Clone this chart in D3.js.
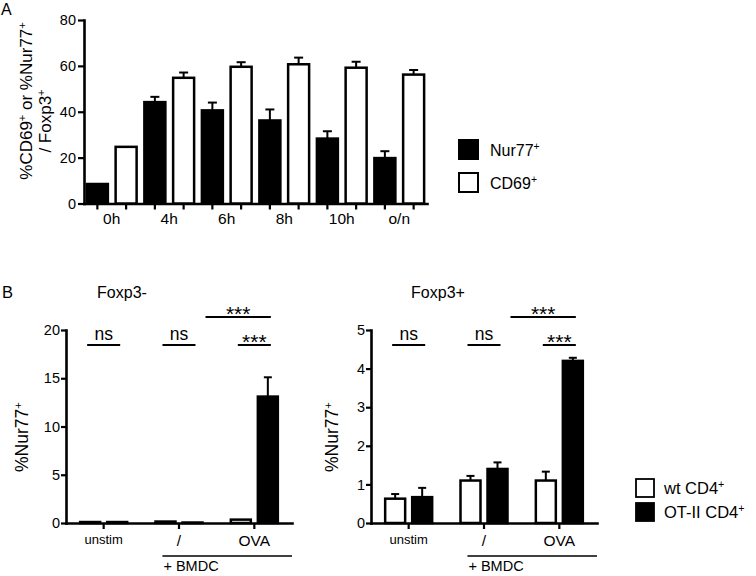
<!DOCTYPE html>
<html>
<head>
<meta charset="utf-8">
<script src="https://d3js.org/d3.v7.min.js"></script>
<style>
  body { margin: 0; background: #fff; }
  svg text { font-family: "Liberation Sans", Arial, sans-serif; fill: #000; }
</style>
</head>
<body>
<svg id="chart" width="756" height="576"></svg>
<script>
// ---- panel A data
const timeLabels = ["0h", "4h", "6h", "8h", "10h", "o/n"];
const nur77Values = [8.5, 44.2, 40.6, 36.2, 28.3, 19.8];
const nur77Errors = [0, 2.3, 3.4, 4.8, 3.2, 3.0];
const cd69Values = [24.7, 54.8, 59.6, 60.7, 59.2, 56.2];
const cd69Errors = [0, 2.3, 2.0, 2.9, 2.6, 2.0];
const aTicks = [0, 20, 40, 60, 80];

// ---- panel B data
const stimGroups = ["unstim", "/", "OVA"];
const negWt = [0.1, 0.15, 0.35];
const negWtErr = [0, 0, 0];
const negOt = [0.1, 0.05, 13.1];
const negOtErr = [0, 0, 2.0];
const posWt = [0.63, 1.1, 1.1];
const posWtErr = [0.12, 0.12, 0.23];
const posOt = [0.67, 1.4, 4.2];
const posOtErr = [0.24, 0.17, 0.08];
const negTicks = [0, 5, 10, 15, 20];
const posTicks = [0, 1, 2, 3, 4, 5];
const sigFrom = [["unstim", "wt"], ["/", "wt"], ["OVA", "wt"], ["/", "ot"]];
const sigTo = [["unstim", "ot"], ["/", "ot"], ["OVA", "ot"], ["OVA", "ot"]];
const sigLabels = ["ns", "ns", "***", "***"];

const svg = d3.select("#chart");

function styleAxis(g, size) {
  g.attr("font-family", null).attr("font-size", size);
  g.select(".domain").attr("stroke-width", 2.6).attr("stroke-linecap", "square");
  g.selectAll(".tick line").attr("stroke-width", 2.2);
}

// text with superscript parts: [[str, isSup], ...]
function richText(sel, parts, supShift) {
  parts.forEach(([s, sup]) => {
    const t = sel.append("tspan").text(s);
    if (sup) t.attr("font-size", "65%").attr("dy", -supShift);
  });
  // undo shift after a sup when followed by text
  sel.selectAll("tspan").each(function (d, i, nodes) {
    if (i > 0 && parts[i - 1][1] && !parts[i][1]) d3.select(this).attr("dy", supShift);
  });
}

// ================= Panel A =================
const aBars = timeLabels.flatMap((t, i) => [
  { key: t + "|n", time: t, fill: "#000", v: nur77Values[i], e: nur77Errors[i] },
  { key: t + "|c", time: t, fill: "#fff", v: cd69Values[i], e: cd69Errors[i] },
]);
const xA = d3.scaleBand().domain(aBars.map(d => d.key)).range([84, 427])
  .paddingInner(0.27).paddingOuter(0.1);
const yA = d3.scaleLinear().domain([0, 80]).range([203.5, 20]);

const gA = svg.append("g");
gA.append("text").attr("x", 1).attr("y", 15).attr("font-size", 16).text("A");

gA.append("g").attr("transform", "translate(84,0)")
  .call(d3.axisLeft(yA).tickValues(aTicks).tickSize(6).tickSizeOuter(0).tickPadding(2))
  .call(g => styleAxis(g, 14.5));
gA.append("g").attr("transform", `translate(0,${yA(0)})`)
  .call(d3.axisBottom(xA).tickFormat("").tickSize(6).tickSizeOuter(0))
  .call(g => styleAxis(g, 14));

gA.selectAll("text.tl").data(timeLabels).enter().append("text")
  .attr("class", "tl")
  .attr("x", t => xA(t + "|n") + (xA(t + "|c") - xA(t + "|n") + xA.bandwidth()) / 2)
  .attr("y", 224).attr("text-anchor", "middle").attr("font-size", 15.5).text(t => t);

gA.selectAll("rect.bar").data(aBars).enter().append("rect")
  .attr("class", "bar")
  .attr("x", d => xA(d.key)).attr("width", xA.bandwidth())
  .attr("y", d => yA(d.v)).attr("height", d => yA(0) - yA(d.v))
  .attr("fill", d => d.fill).attr("stroke", "#000").attr("stroke-width", 2.5);

const aErr = gA.selectAll("g.err").data(aBars.filter(d => d.e > 0)).enter().append("g");
aErr.append("line")
  .attr("x1", d => xA(d.key) + xA.bandwidth() / 2).attr("x2", d => xA(d.key) + xA.bandwidth() / 2)
  .attr("y1", d => yA(d.v)).attr("y2", d => yA(d.v + d.e))
  .attr("stroke", "#000").attr("stroke-width", 2);
aErr.append("line")
  .attr("x1", d => xA(d.key) + xA.bandwidth() / 2 - 4.5).attr("x2", d => xA(d.key) + xA.bandwidth() / 2 + 4.5)
  .attr("y1", d => yA(d.v + d.e)).attr("y2", d => yA(d.v + d.e))
  .attr("stroke", "#000").attr("stroke-width", 2);

// y label
const aLab = gA.append("text").attr("transform", "translate(32,101) rotate(-90)")
  .attr("text-anchor", "middle").attr("font-size", 17);
richText(aLab, [["%CD69", false], ["+", true], [" or %Nur77", false], ["+", true]], 6);
const aLab2 = gA.append("text").attr("transform", "translate(51,121) rotate(-90)")
  .attr("text-anchor", "middle").attr("font-size", 17);
richText(aLab2, [["/ Foxp3", false], ["+", true]], 6);

// legend A
const legA = [["#000", "Nur77"], ["#fff", "CD69"]];
legA.forEach(([f, lab], i) => {
  gA.append("rect").attr("x", 459).attr("y", 140 + i * 33).attr("width", 19).attr("height", 19)
    .attr("fill", f).attr("stroke", "#000").attr("stroke-width", 2);
  const t = gA.append("text").attr("x", 490).attr("y", 156 + i * 33).attr("font-size", 16);
  richText(t, [[lab, false], ["+", true]], 6);
});

// ================= Panel B =================
function drawPanel(o) {
  const g = svg.append("g");
  const xg = d3.scaleBand().domain(stimGroups).range([o.axisX, o.axisEnd]);
  const xs = d3.scaleBand().domain(["wt", "ot"]).range([-23.5, 23.5]).paddingInner(0.26);
  const y = d3.scaleLinear().domain([0, o.yMax]).range([523, 330]);
  const cx = (grp, s) => xg(grp) + xg.bandwidth() / 2 + xs(s) + xs.bandwidth() / 2;

  g.append("text").attr("x", o.titleX).attr("y", 298).attr("text-anchor", "middle")
    .attr("font-size", 16).text(o.title);

  g.append("g").attr("transform", `translate(${o.axisX},0)`)
    .call(d3.axisLeft(y).tickValues(o.ticks).tickFormat(d3.format("d"))
      .tickSize(5).tickSizeOuter(0).tickPadding(1))
    .call(a => styleAxis(a, 14.5));
  const xa = g.append("g").attr("transform", `translate(0,${y(0)})`)
    .call(d3.axisBottom(xg).tickSize(6).tickSizeOuter(0).tickPadding(6))
    .call(a => styleAxis(a, 15));
  xa.selectAll(".tick text").attr("font-size", d => d === "unstim" ? 13 : 15.5);

  const bars = stimGroups.flatMap((grp, i) => [
    { grp, s: "wt", fill: "#fff", v: o.wt[i], e: o.wtErr[i] },
    { grp, s: "ot", fill: "#000", v: o.ot[i], e: o.otErr[i] },
  ]);
  g.selectAll("rect.bar").data(bars).enter().append("rect")
    .attr("x", d => cx(d.grp, d.s) - xs.bandwidth() / 2).attr("width", xs.bandwidth())
    .attr("y", d => y(d.v)).attr("height", d => y(0) - y(d.v))
    .attr("fill", d => d.fill).attr("stroke", "#000").attr("stroke-width", 2.5);
  const eb = g.selectAll("g.err").data(bars.filter(d => d.e > 0)).enter().append("g");
  eb.append("line").attr("x1", d => cx(d.grp, d.s)).attr("x2", d => cx(d.grp, d.s))
    .attr("y1", d => y(d.v)).attr("y2", d => y(d.v + d.e))
    .attr("stroke", "#000").attr("stroke-width", 2);
  eb.append("line").attr("x1", d => cx(d.grp, d.s) - 4).attr("x2", d => cx(d.grp, d.s) + 4)
    .attr("y1", d => y(d.v + d.e)).attr("y2", d => y(d.v + d.e))
    .attr("stroke", "#000").attr("stroke-width", 2);

  // significance lines
  const yTop = y(o.yMax);
  sigLabels.forEach((lab, i) => {
    const [ga, sa] = sigFrom[i], [gb, sb] = sigTo[i];
    const wide = ga !== gb;
    const x1 = wide ? cx(ga, sa) + xs.bandwidth() / 2 + 3 : cx(ga, sa) - 3;
    const x2 = cx(gb, sb) + 3;
    const ly = wide ? yTop - 13 : yTop + 15;
    g.append("line").attr("x1", x1).attr("x2", x2).attr("y1", ly).attr("y2", ly)
      .attr("stroke", "#000").attr("stroke-width", 2);
    g.append("text").attr("x", (x1 + x2) / 2)
      .attr("y", lab === "ns" ? ly - 5 : ly + 4)
      .attr("text-anchor", "middle").attr("font-size", lab === "ns" ? 17.5 : 21).text(lab);
  });

  // + BMDC bracket
  const bx = xg("/") + xg.bandwidth() * 0.28;
  g.append("line").attr("x1", bx).attr("x2", o.axisEnd).attr("y1", 556).attr("y2", 556)
    .attr("stroke", "#000").attr("stroke-width", 1.5);
  g.append("text").attr("x", bx + 1).attr("y", 571).attr("font-size", 14.5).text("+ BMDC");

  const yl = g.append("text").attr("transform", `translate(${o.ylabX},437) rotate(-90)`)
    .attr("text-anchor", "middle").attr("font-size", 17.5);
  richText(yl, [["%Nur77", false], ["+", true]], 6);
  return g;
}

svg.append("text").attr("x", 2).attr("y", 298).attr("font-size", 16.5).text("B");

drawPanel({ axisX: 66, axisEnd: 292, yMax: 20, ticks: negTicks, title: "Foxp3-", titleX: 122,
  ylabX: 28, wt: negWt, wtErr: negWtErr, ot: negOt, otErr: negOtErr });
drawPanel({ axisX: 371, axisEnd: 597, yMax: 5, ticks: posTicks, title: "Foxp3+", titleX: 438,
  ylabX: 338, wt: posWt, wtErr: posWtErr, ot: posOt, otErr: posOtErr });

// legend B
const legB = [["#fff", "wt CD4"], ["#000", "OT-II CD4"]];
legB.forEach(([f, lab], i) => {
  svg.append("rect").attr("x", 636).attr("y", 479 + i * 24).attr("width", 18).attr("height", 18)
    .attr("fill", f).attr("stroke", "#000").attr("stroke-width", 1.8);
  const t = svg.append("text").attr("x", 664).attr("y", 494 + i * 24).attr("font-size", 16.5);
  richText(t, [[lab, false], ["+", true]], 6);
});
</script>
</body>
</html>
